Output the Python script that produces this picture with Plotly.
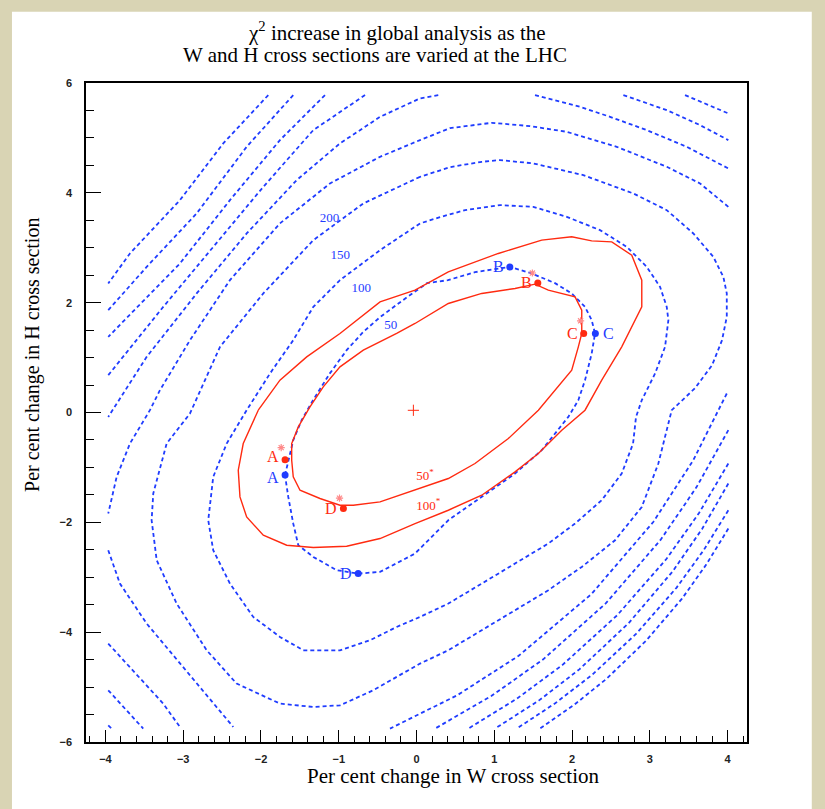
import plotly.graph_objects as go

# ---------------------------------------------------------------------------
# chi^2 contours in the plane (per cent change in W, per cent change in H)
# each level is a list of pieces (w values, h values); pieces end where the
# scan grid ends
# ---------------------------------------------------------------------------
blue_50 = [
    ([-1.691, -1.585, -1.477, -1.331, -1.112, -0.898, -0.688, -0.469, -0.174, 0.135,
      0.405, 0.752, 1.203, 1.482, 1.781, 1.996, 2.167, 2.253, 2.296, 2.253, 2.167,
      2.081, 1.952, 1.610, 1.267, 0.839, 0.409, -0.019, -0.255, -0.469, -0.749,
      -1.026, -1.327, -1.520, -1.585, -1.649, -1.691],
     [-1.142, -0.504, -0.140, 0.224, 0.717, 1.135, 1.463, 1.736, 2.046, 2.356,
      2.410, 2.556, 2.652, 2.532, 2.355, 2.168, 1.923, 1.681, 1.439, 1.075, 0.588,
      0.224, -0.080, -0.687, -1.111, -1.537, -1.962, -2.568, -2.750, -2.903, -2.933,
      -2.872, -2.630, -2.417, -2.022, -1.537, -1.142]),
]

blue_100 = [
    ([0.045, -0.469, -0.984, -1.327, -1.585, -1.884, -2.184, -2.441, -2.614, -2.678,
      -2.614, -2.399, -2.099, -1.756, -1.456, -0.984, -0.598, -0.255, 0.045, 0.409,
      0.839, 1.267, 1.695, 2.039, 2.382, 2.639, 2.785, 2.823, 2.897, 3.068, 3.196,
      3.239, 3.218, 3.132, 2.961, 2.704, 2.360, 1.932, 1.502, 1.074, 0.624, 0.302, 0.045],
     [3.443, 2.956, 2.410, 1.923, 1.317, 0.710, 0.042, -0.565, -1.173, -1.962,
      -2.508, -3.115, -3.723, -4.087, -4.330, -4.330, -4.148, -3.905, -3.723, -3.479,
      -3.115, -2.750, -2.386, -2.022, -1.597, -1.111, -0.565, -0.080, 0.224, 0.710, 1.195,
      1.681, 1.923, 2.288, 2.652, 3.016, 3.321, 3.563, 3.745, 3.776, 3.685, 3.557, 3.443]),
]

blue_150 = [
    ([0.045, -0.684, -1.327, -1.970, -2.527, -2.913, -3.213, -3.385, -3.406, -3.341,
      -3.084, -2.698, -2.313, -1.756, -1.327, -0.984, -0.556, -0.255, 0.045, 0.409,
      0.839, 1.267, 1.695, 2.125, 2.553, 2.897, 3.110, 3.282, 3.582, 3.801, 3.929,
      3.990, 3.990, 3.946, 3.817, 3.560, 3.218, 2.788, 2.145, 1.502, 1.074, 0.839,
      0.431, 0.045],
     [4.291, 3.807, 3.138, 2.168, 1.195, -0.018, -0.565, -1.475, -1.962, -2.690,
      -3.479, -4.330, -4.936, -5.301, -5.362, -5.332, -5.058, -4.816, -4.572, -4.330,
      -3.965, -3.601, -3.237, -2.812, -2.326, -1.720, -0.929, 0.042, 0.443, 0.862, 1.317,
      1.741, 2.168, 2.470, 2.834, 3.260, 3.685, 3.989, 4.322, 4.536, 4.596, 4.565,
      4.468, 4.291]),
]

blue_200 = [
    ([4.010, 3.646, 3.218, 2.575, 1.932, 1.460, 0.967, 0.431, 0.045, -0.469, -1.113,
      -1.756, -2.399, -2.913, -3.299, -3.428, -3.685, -3.856, -3.964],
     [3.745, 4.171, 4.474, 4.838, 5.111, 5.215, 5.275, 5.178, 4.960, 4.656, 4.171,
      3.443, 2.410, 1.317, 0.406, 0.042, -0.565, -1.173, -1.840]),
    ([-3.964, -3.814, -3.470, -3.042, -2.614, -2.356],
     [-2.508, -3.115, -3.843, -4.572, -5.301, -5.727]),
    ([3.990, 3.556, 3.047, 2.250, 1.314, 0.525, -0.341],
     [0.346, -0.876, -1.989, -3.306, -4.430, -5.148, -5.756]),
]

blue_250 = [
    ([0.280, 0.045, -0.469, -0.984, -1.541, -2.184, -2.827, -3.470, -3.964],
     [5.780, 5.720, 5.384, 4.900, 4.231, 3.260, 2.168, 1.013, -0.080]),
    ([1.524, 2.103, 2.489, 2.961, 3.475, 4.010],
     [5.780, 5.567, 5.384, 5.142, 4.838, 4.444]),
    ([-3.964, -3.685, -3.257, -3.042],
     [-4.208, -4.634, -5.301, -5.727]),
    ([4.010, 3.601, 3.138, 2.433, 1.630, 0.961, 0.238],
     [-0.322, -1.359, -2.321, -3.477, -4.494, -5.164, -5.756]),
]

blue_300 = [
    ([-0.662, -1.327, -1.970, -2.614, -3.257, -3.964],
     [5.780, 5.142, 4.109, 3.016, 1.923, 0.679]),
    ([2.660, 3.218, 3.646, 4.010],
     [5.780, 5.506, 5.233, 4.960]),
    ([-3.964, -3.514],
     [-5.058, -5.756]),
    ([4.010, 3.633, 3.213, 2.583, 1.875, 1.293, 0.666],
     [-0.929, -1.831, -2.668, -3.689, -4.599, -5.209, -5.756]),
]

blue_350 = [
    ([-1.177, -1.756, -2.399, -3.042, -3.964],
     [5.780, 4.960, 3.867, 2.714, 1.377]),
    ([3.453, 4.010],
     [5.780, 5.446]),
    ([-3.964, -3.920],
     [-5.696, -5.756]),
    ([4.010, 3.672, 3.294, 2.729, 2.094, 1.572, 1.010],
     [-1.293, -2.122, -2.893, -3.834, -4.678, -5.246, -5.756]),
]

blue_400 = [
    ([-1.585, -2.184, -2.827, -3.470, -3.964],
     [5.780, 4.838, 3.625, 2.652, 1.863]),
    ([4.010, 3.694, 3.345, 2.830, 2.257, 1.788, 1.289],
     [-1.780, -2.505, -3.188, -4.024, -4.778, -5.290, -5.756]),
]

blue_450 = [
    ([-1.906, -2.485, -3.042, -3.685, -3.964],
     [5.780, 4.900, 3.867, 2.896, 2.350]),
    ([4.010, 3.726, 3.414, 2.954, 2.445, 2.030, 1.588],
     [-2.113, -2.770, -3.390, -4.153, -4.847, -5.321, -5.756]),
]

red_50 = [
    ([-1.605, -1.585, -1.498, -1.241, -0.984, -0.813, -0.469, -0.019, 0.409, 0.752,
      1.181, 1.567, 1.781, 1.996, 2.081, 2.125, 2.125, 2.039, 1.695, 1.524, 1.267,
      0.839, 0.409, -0.019, -0.255, -0.684, -0.984, -1.199, -1.370, -1.520, -1.605,
      -1.605],
     [-0.869, -1.173, -1.416, -1.566, -1.689, -1.689, -1.628, -1.415, -1.202, -0.929,
      -0.474, 0.042, 0.406, 0.770, 1.195, 1.439, 1.863, 2.106, 2.228, 2.337, 2.259,
      2.168, 1.985, 1.621, 1.439, 1.135, 0.831, 0.466, 0.102, -0.262, -0.565,
      -0.869]),
]

red_100 = [
    ([-2.035, -2.228, -2.292, -2.270, -2.184, -1.970, -1.669, -1.327, -0.898, -0.469,
      -0.019, 0.409, 0.839, 1.267, 1.567, 1.868, 2.167, 2.382, 2.639, 2.810, 2.897,
      2.897, 2.768, 2.511, 2.253, 1.996, 1.610, 1.052, 0.409, -0.019, -0.469, -0.984,
      -1.412, -1.756, -2.013, -2.035],
     [0.042, -0.565, -1.051, -1.537, -1.902, -2.235, -2.417, -2.459, -2.435, -2.295,
      -2.022, -1.780, -1.506, -1.082, -0.747, -0.322, 0.042, 0.588, 1.195, 1.681, 1.923,
      2.410, 2.865, 3.107, 3.126, 3.199, 3.138, 2.896, 2.561, 2.228, 2.015, 1.439,
      1.013, 0.588, 0.102, 0.042]),
]

blue_levels = [blue_50, blue_100, blue_150, blue_200, blue_250, blue_300,
               blue_350, blue_400, blue_450]
red_levels = [red_50, red_100]

# level labels written along the blue contours
blue_label_w = [-1.12, -0.98, -0.71, -0.33]
blue_label_h = [3.52, 2.85, 2.25, 1.58]
blue_label_text = ["200", "150", "100", "50"]

# level labels of the red contours
red_label_w = [0.11, 0.15]
red_label_h = [-1.17, -1.71]
red_label_text = ["50<sup>*</sup>", "100<sup>*</sup>"]

# marked extreme points on each set of contours
point_names = ["A", "B", "C", "D"]
blue_pts_w = [-1.69, 1.20, 2.30, -0.75]
blue_pts_h = [-1.14, 2.65, 1.44, -2.93]
red_pts_w = [-1.69, 1.56, 2.15, -0.94]
red_pts_h = [-0.86, 2.36, 1.44, -1.75]
red_star_w = [-1.74, 1.49, 2.11, -0.99]
red_star_h = [-0.64, 2.54, 1.67, -1.56]

# best-fit point
centre_w = [-0.04]
centre_h = [0.04]

BLUE = "#1f3cff"
RED = "#ff2a10"
PINK = "#ff8a8a"
SERIF = "Liberation Serif, Times New Roman, serif"


def join(pieces):
    xs, ys = [], []
    for px, py in pieces:
        xs += list(px) + [None]
        ys += list(py) + [None]
    return xs, ys


fig = go.Figure()

for lvl in blue_levels:
    xs, ys = join(lvl)
    fig.add_trace(go.Scatter(x=xs, y=ys, mode="lines", hoverinfo="skip",
                             line=dict(color=BLUE, width=1.8, dash="4px,3px"),
                             showlegend=False))

for lvl in red_levels:
    xs, ys = join(lvl)
    fig.add_trace(go.Scatter(x=xs, y=ys, mode="lines", hoverinfo="skip",
                             line=dict(color=RED, width=1.4),
                             showlegend=False))

fig.add_trace(go.Scatter(x=blue_label_w, y=blue_label_h, text=blue_label_text,
                         mode="text", textfont=dict(family=SERIF, size=13, color=BLUE),
                         showlegend=False))
fig.add_trace(go.Scatter(x=red_label_w, y=red_label_h, text=red_label_text,
                         mode="text", textfont=dict(family=SERIF, size=13, color=RED),
                         showlegend=False))

fig.add_trace(go.Scatter(x=red_star_w, y=red_star_h, mode="markers",
                         marker=dict(symbol="asterisk-open", size=6, color=PINK,
                                     line=dict(color=PINK, width=1.2)),
                         showlegend=False))

fig.add_trace(go.Scatter(x=blue_pts_w, y=blue_pts_h, mode="markers",
                         marker=dict(color=BLUE, size=7), showlegend=False))
fig.add_trace(go.Scatter(x=red_pts_w, y=red_pts_h, mode="markers",
                         marker=dict(color=RED, size=7), showlegend=False))

fig.add_trace(go.Scatter(x=centre_w, y=centre_h, mode="markers",
                         marker=dict(symbol="cross-thin-open", size=8, color=RED,
                                     line=dict(color=RED, width=1)),
                         showlegend=False))

annotations = [
    dict(text="χ<sup>2</sup> increase in global analysis as the", x=0.4705, y=1.0775,
         xref="paper", yref="paper", showarrow=False, xanchor="center", yanchor="middle",
         font=dict(family=SERIF, size=21, color="black")),
    dict(text="W and H cross sections are varied at the LHC", x=0.437, y=1.0425,
         xref="paper", yref="paper", showarrow=False, xanchor="center", yanchor="middle",
         font=dict(family=SERIF, size=21, color="black")),
    dict(text="Per cent change in W cross section", x=0.555, y=-0.052,
         xref="paper", yref="paper", showarrow=False, xanchor="center", yanchor="middle",
         font=dict(family=SERIF, size=21, color="black")),
    dict(text="Per cent change in H cross section", x=-0.082, y=0.587, textangle=-90,
         xref="paper", yref="paper", showarrow=False, xanchor="center", yanchor="middle",
         font=dict(family=SERIF, size=20, color="black")),
]

# letters naming the marked points, set beside their markers
blue_side = ["left", "left", "right", "left"]
blue_lift = [-2, 0, 0, 0]
red_lift = [3, 0, 0, 0]
for i, name in enumerate(point_names):
    right = blue_side[i] == "right"
    annotations.append(dict(
        text=name, x=blue_pts_w[i], y=blue_pts_h[i], xref="x", yref="y",
        showarrow=False, xanchor="left" if right else "right", yanchor="middle",
        xshift=6 if right else -4, yshift=blue_lift[i],
        font=dict(family=SERIF, size=16, color=BLUE)))
    annotations.append(dict(
        text=name, x=red_pts_w[i], y=red_pts_h[i], xref="x", yref="y",
        showarrow=False, xanchor="right", yanchor="middle",
        xshift=-4, yshift=red_lift[i],
        font=dict(family=SERIF, size=16, color=RED)))

fig.update_layout(
    width=825, height=809, autosize=False,
    margin=dict(l=86, r=78, t=83, b=67),
    paper_bgcolor="#d9d4b4",
    plot_bgcolor="white",
    annotations=annotations,
    shapes=[dict(type="rect", xref="paper", yref="paper", layer="below",
                 x0=-0.112, x1=1.098, y0=-0.11, y1=1.108,
                 fillcolor="white", line=dict(width=0))],
)

fig.update_xaxes(
    range=[-4.25, 4.25], tickvals=[-4, -3, -2, -1, 0, 1, 2, 3, 4],
    ticks="inside", ticklen=12, tickwidth=1.2, tickcolor="black",
    minor=dict(dtick=0.2, tick0=0, ticks="inside", ticklen=6, tickcolor="black", tickwidth=1),
    showline=True, mirror=True, linecolor="black", linewidth=1.6,
    showgrid=False, zeroline=False, ticklabelstandoff=6,
    tickfont=dict(family="Liberation Sans, Arial", size=11, color="#222", weight="bold"),
)
fig.update_yaxes(
    range=[-6, 6], tickvals=[-6, -4, -2, 0, 2, 4, 6],
    ticks="inside", ticklen=15, tickwidth=1.2, tickcolor="black",
    minor=dict(dtick=0.5, tick0=0, ticks="inside", ticklen=8, tickcolor="black", tickwidth=1),
    showline=True, mirror=True, linecolor="black", linewidth=1.6,
    showgrid=False, zeroline=False, ticklabelstandoff=10,
    tickfont=dict(family="Liberation Sans, Arial", size=11, color="#222", weight="bold"),
)

fig.write_html("out.html")
